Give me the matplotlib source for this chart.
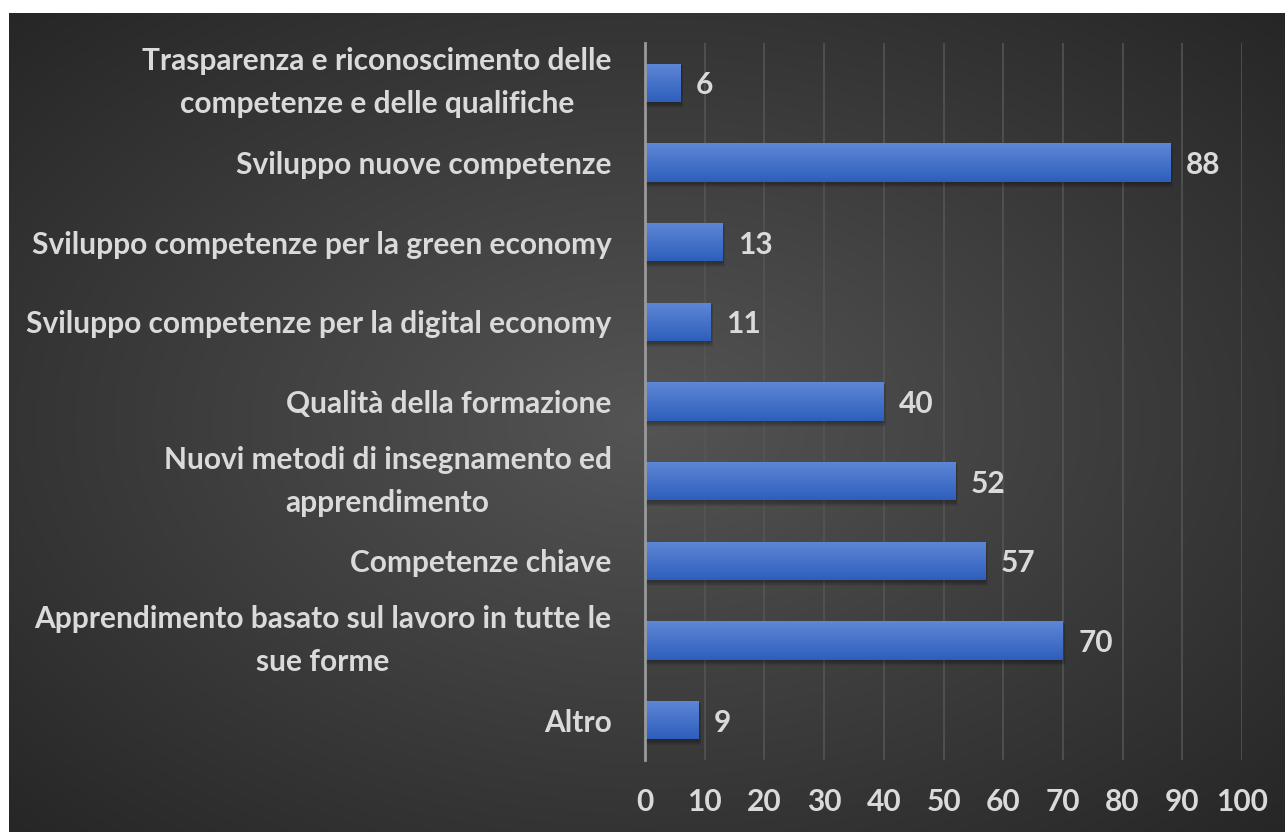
import numpy as np
import matplotlib
matplotlib.use("Agg")
import matplotlib.pyplot as plt
from matplotlib.patches import Rectangle

categories = [
    "Trasparenza e riconoscimento delle\ncompetenze e delle qualifiche",
    "Sviluppo nuove competenze",
    "Sviluppo competenze per la green economy",
    "Sviluppo competenze per la digital economy",
    "Qualità della formazione",
    "Nuovi metodi di insegnamento ed\napprendimento",
    "Competenze chiave",
    "Apprendimento basato sul lavoro in tutte le\nsue forme",
    "Altro",
]
values = [6, 88, 13, 11, 40, 52, 57, 70, 9]
xticks = [0, 10, 20, 30, 40, 50, 60, 70, 80, 90, 100]

FONT = "Lato"
TXT = "#dadada"
FS = 21.5

W, H = 1285, 832
fig = plt.figure(figsize=(W / 100, H / 100), dpi=100, facecolor="white")

# background panel with radial gradient
bg = fig.add_axes([9 / W, 0, 1 - 9 / W, 1 - 13 / H])
bg.set_axis_off()
nx, ny = 400, 260
xx, yy = np.meshgrid(np.linspace(-1, 1, nx), np.linspace(-1, 1, ny))
r = np.sqrt(xx ** 2 + yy ** 2) / np.sqrt(2)
r = np.clip(r, 0, 1)
c_center = np.array([0.33, 0.33, 0.33])
c_edge = np.array([0.15, 0.15, 0.15])
img = c_center[None, None, :] * (1 - r[..., None]) + c_edge[None, None, :] * r[..., None]
bg.imshow(img, extent=[0, 1, 0, 1], aspect="auto", interpolation="bilinear")
bg.set_xlim(0, 1)
bg.set_ylim(0, 1)

ax = fig.add_axes([645 / W, 1 - 760 / H, (1242 - 645) / W, (760 - 43) / H])
ax.patch.set_alpha(0)
n = len(categories)
ypos = np.arange(n)
bh = 0.48

ax.set_xlim(0, 100)
ax.set_ylim(n - 0.5, -0.5)

# soft shadows
for y, v in zip(ypos, values):
    for k in np.linspace(0.1, 0.8, 7):
        ax.add_patch(Rectangle((0, y - bh / 2 + 0.02), v + k * 0.55,
                               bh + k * 0.07,
                               facecolor="black", alpha=0.045, edgecolor="none", zorder=2))

bars = ax.barh(ypos, values, height=bh, color="#4472c4", zorder=3)
grad = np.linspace(0, 1, 100)[:, None]
top = np.array([0.37, 0.53, 0.84])
bot = np.array([0.18, 0.37, 0.74])
gimg = top[None, None, :] * (1 - grad[..., None]) + bot[None, None, :] * grad[..., None]
gimg = np.repeat(gimg, 2, axis=1)
for p in bars.patches:
    x0, y0 = p.get_x(), p.get_y()
    w, h = p.get_width(), p.get_height()
    im = ax.imshow(gimg, extent=[x0, x0 + w, y0 + h, y0], aspect="auto",
                   interpolation="bilinear", zorder=4, origin="upper")
    im.set_clip_path(p)
ax.set_xlim(0, 100)
ax.set_ylim(n - 0.5, -0.5)

for y, v in zip(ypos, values):
    ax.annotate(str(v), (v, y), xytext=(11, 0), textcoords="offset points",
                va="center_baseline", ha="left", color=TXT, fontsize=FS,
                fontweight="bold", family=FONT, zorder=5)

ax.set_xticks(xticks)
ax.set_xticklabels([str(t) for t in xticks])
ax.set_yticks(ypos)
ax.set_yticklabels(categories)
ax.tick_params(axis="both", length=0, colors=TXT, labelsize=FS)
ax.tick_params(axis="y", pad=24)
ax.tick_params(axis="x", pad=20)
for lab in ax.get_yticklabels():
    lab.set_multialignment("center")
    if "\n" in lab.get_text():
        lab.set_linespacing(1.65)
        lab.set_verticalalignment("center")
for lab in ax.get_xticklabels() + ax.get_yticklabels():
    lab.set_fontfamily(FONT)
    lab.set_fontweight("bold")
    lab.set_color(TXT)

ax.grid(axis="x", color="#565656", linewidth=1.1, zorder=0)
ax.set_axisbelow(True)
for s in ["top", "right", "bottom"]:
    ax.spines[s].set_visible(False)
ax.spines["left"].set_color("#9a9a9a")
ax.spines["left"].set_linewidth(2)
ax.spines["left"].set_zorder(6)

fig.savefig("out.png", dpi=100, facecolor="white")
